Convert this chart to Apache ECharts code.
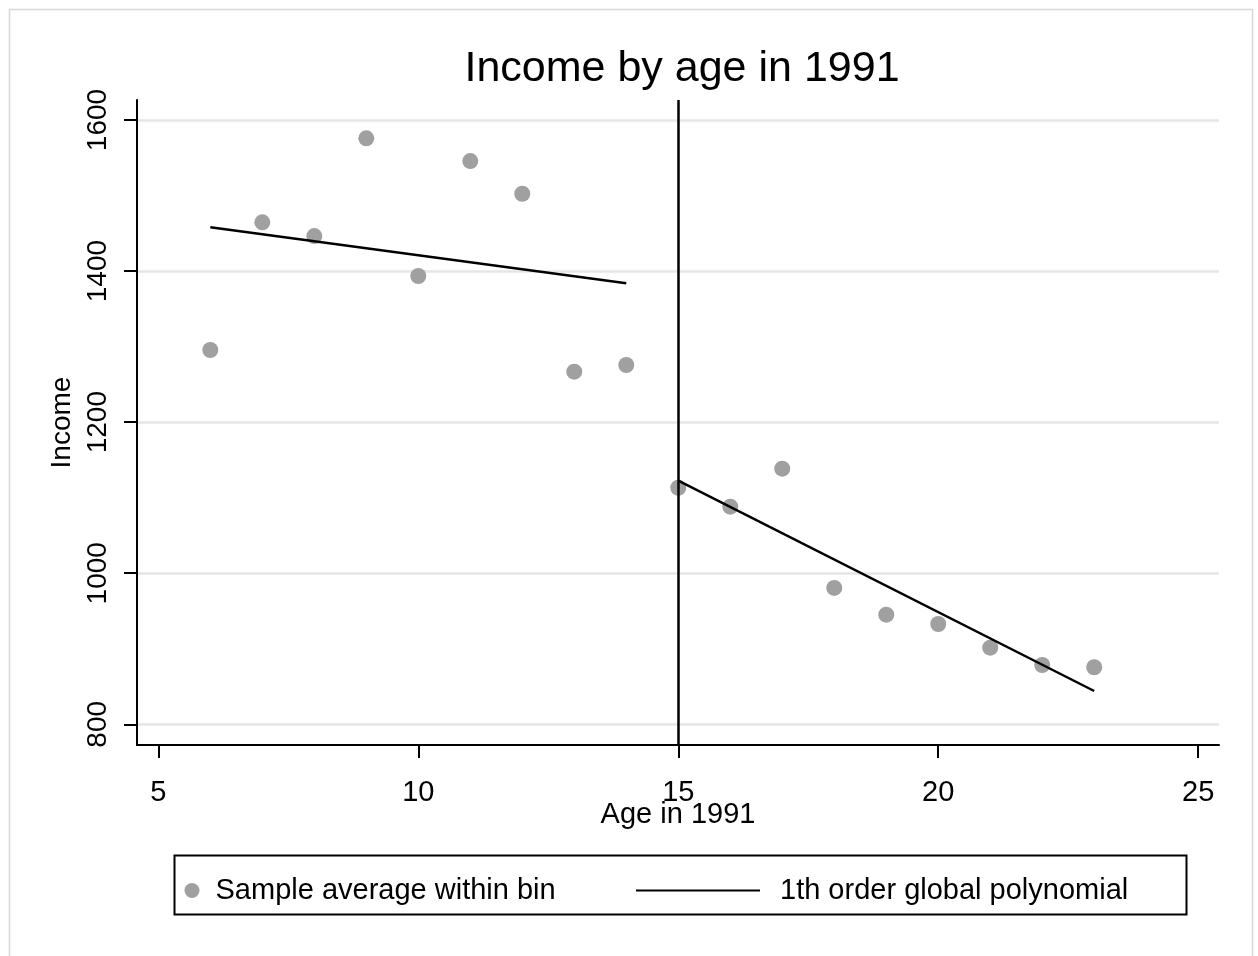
<!DOCTYPE html>
<html>
<head>
<meta charset="utf-8">
<script src="https://cdn.jsdelivr.net/npm/echarts@6/dist/echarts.min.js"></script>
<style>
html,body{margin:0;padding:0;background:#fff;}
#chart{width:1258px;height:956px;}
</style>
</head>
<body>
<div id="chart"></div>
<script>
// ---- data ----
const ages = [6, 7, 8, 9, 10, 11, 12, 13, 14, 15, 16, 17, 18, 19, 20, 21, 22, 23];
const incomes = [1295.5, 1464.6, 1446.4, 1575.8, 1393.5, 1545.7, 1502.4, 1266.8, 1275.7,
                 1113.2, 1088.1, 1138.4, 980.5, 945.1, 932.8, 901.4, 878.5, 875.5];
const leftFitX = [6, 14];
const leftFitY = [1458, 1383.8];
const rightFitX = [15, 23];
const rightFitY = [1122.6, 844.1];
const cutoff = 15;
const xTicks = [5, 10, 15, 20, 25];
const yTicks = [800, 1000, 1200, 1400, 1600];
const titleText = 'Income by age in 1991';
const xName = 'Age in 1991';
const yName = 'Income';
const scatterName = 'Sample average within bin';
const fitName = '1th order global polynomial';

const FONT = 'Liberation Sans';
const chart = echarts.init(document.getElementById('chart'), null, {renderer: 'canvas'});

const option = {
  animation: false,
  backgroundColor: '#fff',
  title: {
    text: titleText,
    left: 677,
    top: 43,
    textAlign: 'center',
    textStyle: {fontFamily: FONT, fontSize: 43, fontWeight: 'normal', color: '#000'}
  },
  graphic: [
    {type: 'rect', left: 7, top: 7, shape: {x: 0, y: 0, width: 1243, height: 970},
     style: {fill: 'none', stroke: '#d8d8d8', lineWidth: 1.5}, silent: true},
    {type: 'rect', left: 172, top: 853, shape: {x: 0, y: 0, width: 1012, height: 59},
     style: {fill: 'none', stroke: '#000', lineWidth: 2}, silent: true}
  ],
  legend: [
    {
      data: [{name: scatterName, icon: 'circle'}],
      left: 184.5, top: 876, padding: 0,
      itemWidth: 15, itemHeight: 15,
      textStyle: {fontFamily: FONT, fontSize: 29, color: '#000', padding: [0, 0, 0, 11]}
    },
    {
      data: [{name: fitName, icon: 'rect'}],
      left: 636, top: 876, padding: 0,
      itemWidth: 124, itemHeight: 2,
      textStyle: {fontFamily: FONT, fontSize: 29, color: '#000', padding: [0, 0, 0, 15]}
    }
  ],
  grid: {left: 137, top: 100, width: 1082, height: 645, containLabel: false, outerBoundsMode: 'none'},
  xAxis: {
    type: 'value',
    min: 4.59, max: 25.4,
    name: xName, nameLocation: 'middle', nameGap: 55, nameMoveOverlap: false,
    nameTextStyle: {fontFamily: FONT, fontSize: 29, color: '#000'},
    axisLine: {show: true, lineStyle: {color: '#000', width: 2}},
    axisTick: {show: true, length: 13, customValues: xTicks, lineStyle: {color: '#000', width: 2}},
    axisLabel: {customValues: xTicks, fontFamily: FONT, fontSize: 29, color: '#000', margin: 33},
    splitLine: {show: false}
  },
  yAxis: {
    type: 'value',
    min: 772.6, max: 1626.5,
    name: yName, nameLocation: 'middle', nameRotate: 90, nameGap: 61, nameMoveOverlap: false,
    nameTextStyle: {fontFamily: FONT, fontSize: 28, color: '#000'},
    axisLine: {show: true, lineStyle: {color: '#000', width: 2}},
    axisTick: {show: true, length: 13, customValues: yTicks, lineStyle: {color: '#000', width: 2}},
    axisLabel: {customValues: yTicks, rotate: 90, fontFamily: FONT, fontSize: 28, color: '#000', margin: 25,
                formatter: v => String(v)},
    splitLine: {show: true, lineStyle: {color: '#e6e6e6', width: 2.5}}
  },
  series: [
    {
      name: scatterName,
      type: 'scatter',
      data: ages.map((a, i) => [a, incomes[i]]),
      symbol: 'circle',
      symbolSize: 16,
      itemStyle: {color: '#a0a0a0', opacity: 1},
      z: 2
    },
    {
      name: fitName,
      type: 'line',
      data: leftFitX.map((x, i) => [x, leftFitY[i]]),
      symbol: 'none',
      itemStyle: {color: '#000'},
      lineStyle: {color: '#000', width: 2.5},
      z: 3,
      markLine: {
        silent: true,
        symbol: ['none', 'none'],
        label: {show: false},
        lineStyle: {color: '#000', width: 2.5, type: 'solid'},
        data: [{xAxis: cutoff}]
      }
    },
    {
      name: fitName,
      type: 'line',
      data: rightFitX.map((x, i) => [x, rightFitY[i]]),
      symbol: 'none',
      itemStyle: {color: '#000'},
      lineStyle: {color: '#000', width: 2.5},
      z: 3
    }
  ]
};
chart.setOption(option);
</script>
</body>
</html>
